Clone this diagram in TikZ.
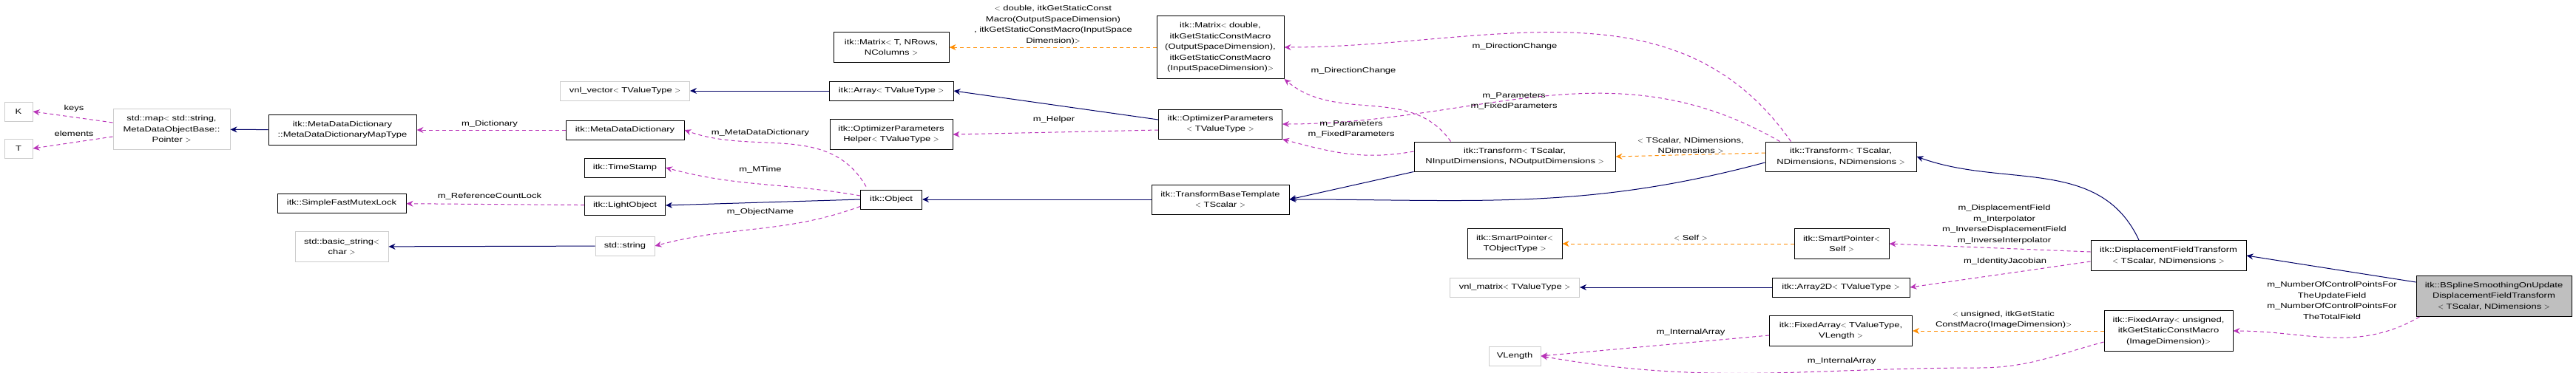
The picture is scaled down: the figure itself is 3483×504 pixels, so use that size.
\documentclass[tikz,border=0pt]{standalone}
\usepackage{fontspec}
\setmainfont{Liberation Sans}[FakeStretch=1.3]
\usetikzlibrary{arrows.meta,calc}
\begin{document}
\begin{tikzpicture}[x=1pt,y=-1pt,
  font=\fontsize{10}{14.5}\selectfont,
  box/.style={draw=black,line width=1pt,fill=white,align=center,inner sep=2pt},
  cls/.style={box},
  ext/.style={box,draw=black!20},
  cur/.style={box,fill=black!25},
  inh/.style={draw=blue!40!black,line width=1pt,-{Stealth[length=9pt,width=8pt]}},
  use/.style={draw=violet!70!magenta!80,line width=1pt,dash pattern=on 5pt off 4pt,-{Stealth[length=9pt,width=8pt]}},
  tpl/.style={draw=orange!90!yellow,line width=1pt,dash pattern=on 5pt off 4pt,-{Stealth[length=9pt,width=8pt]}},
  lbl/.style={align=center,inner sep=0pt}]
\useasboundingbox (0,0) rectangle (3483,504);
% nodes
\node[ext,minimum width=38,minimum height=26] (k) at (25,151) {K};
\node[ext,minimum width=38,minimum height=26] (t) at (25,201) {T};
\node[ext,minimum width=158,minimum height=55] (map) at (232,175) {std::map$<$ std::string,\\MetaDataObjectBase::\\Pointer $>$};
\node[cls,minimum width=200,minimum height=41] (maptype) at (463,176) {itk::MetaDataDictionary\\::MetaDataDictionaryMapType};
\node[ext,minimum width=175,minimum height=26] (vvec) at (845,123) {vnl\_vector$<$ TValueType $>$};
\node[cls,minimum width=160,minimum height=26] (mdd) at (845,176) {itk::MetaDataDictionary};
\node[cls,minimum width=109,minimum height=26] (stamp) at (845,227) {itk::TimeStamp};
\node[cls,minimum width=174,minimum height=26] (mutex) at (462,275) {itk::SimpleFastMutexLock};
\node[cls,minimum width=109,minimum height=26] (light) at (845,278) {itk::LightObject};
\node[ext,minimum width=126,minimum height=41] (bstr) at (462,334) {std::basic\_string$<$\\char $>$};
\node[ext,minimum width=80,minimum height=26] (str) at (845,333) {std::string};
\node[cls,minimum width=156,minimum height=41] (matT) at (1205,64) {itk::Matrix$<$ T, NRows,\\NColumns $>$};
\node[cls,minimum width=172,minimum height=85] (matD) at (1650,64) {itk::Matrix$<$ double,\\itkGetStaticConstMacro\\(OutputSpaceDimension),\\itkGetStaticConstMacro\\(InputSpaceDimension)$>$};
\node[cls,minimum width=168,minimum height=26] (arr) at (1205,123) {itk::Array$<$ TValueType $>$};
\node[cls,minimum width=166,minimum height=41] (helper) at (1205,182) {itk::OptimizerParameters\\Helper$<$ TValueType $>$};
\node[cls,minimum width=167,minimum height=40] (opt) at (1650,168) {itk::OptimizerParameters\\$<$ TValueType $>$};
\node[cls,minimum width=83,minimum height=26] (obj) at (1205,270) {itk::Object};
\node[cls,minimum width=186,minimum height=40] (tbt) at (1650,270) {itk::TransformBaseTemplate\\$<$ TScalar $>$};
\node[cls,minimum width=272,minimum height=40] (trIO) at (2048,212) {itk::Transform$<$ TScalar,\\NInputDimensions, NOutputDimensions $>$};
\node[cls,minimum width=204,minimum height=40] (trD) at (2489,212) {itk::Transform$<$ TScalar,\\NDimensions, NDimensions $>$};
\node[cls,minimum width=128,minimum height=41] (spT) at (2048,330) {itk::SmartPointer$<$\\TObjectType $>$};
\node[cls,minimum width=128,minimum height=41] (spS) at (2490,330) {itk::SmartPointer$<$\\Self $>$};
\node[ext,minimum width=175,minimum height=26] (vmat) at (2048,389) {vnl\_matrix$<$ TValueType $>$};
\node[cls,minimum width=186,minimum height=26] (arr2) at (2489,389) {itk::Array2D$<$ TValueType $>$};
\node[ext,minimum width=70,minimum height=26] (vlen) at (2048,482) {VLength};
\node[cls,minimum width=193,minimum height=41] (faT) at (2489,448) {itk::FixedArray$<$ TValueType,\\VLength $>$};
\node[cls,minimum width=210,minimum height=41] (dft) at (2932,346) {itk::DisplacementFieldTransform\\$<$ TScalar, NDimensions $>$};
\node[cls,minimum width=174,minimum height=55] (faU) at (2932,448) {itk::FixedArray$<$ unsigned,\\itkGetStaticConstMacro\\(ImageDimension)$>$};
\node[cur,minimum width=210,minimum height=55] (bsp) at (3372,401) {itk::BSplineSmoothingOnUpdate\\DisplacementFieldTransform\\$<$ TScalar, NDimensions $>$};
% connectors
\draw[use] (map.west|-k.east) ++(0,15) -- (k.east);
\draw[use] (map.west) ++(0,10) -- (t.east);
\draw[inh] (maptype) -- (map);
\draw[use] (mdd) -- (maptype);
\draw[use] (obj.north west) ++(8,-4) to[out=120,in=-20] (mdd.east);
\draw[use] (obj.west) ++(0,-5) to[out=170,in=-15] (stamp.east);
\draw[inh] (obj.west) -- (light.east);
\draw[use] (obj.south west) ++(0,-4) to[out=200,in=15] (str.east);
\draw[use] (light) -- (mutex);
\draw[inh] (str) -- (bstr);
\draw[inh] (arr) -- (vvec);
\draw[inh] (opt.west) ++(0,-6) -- (arr.east);
\draw[use] (opt.west) ++(0,8) -- (helper.east);
\draw[tpl] (matD) -- (matT);
\draw[inh] (tbt) -- (obj);
\draw[inh] (trIO.south west) -- (tbt.east);
\draw[use] (trIO.west) ++(0,-7) to[out=190,in=-15] (opt.south east);
\draw[use] (trIO.north west) ++(50,0) to[out=125,in=-40] (matD.south east);
\draw[tpl] (trD.west) ++(0,-5) -- (trIO.east);
\draw[inh] (trD.west) ++(0,8) to[out=195,in=0] (tbt.east);
\draw[use] (trD.north west) ++(20,0) to[out=150,in=0] (opt.east);
\draw[use] (trD.north west) ++(35,0) to[out=125,in=0] (matD.east);
\draw[inh] (dft.north) ++(-40,0) to[out=115,in=-20] (trD.east);
\draw[use] (dft.west) ++(0,-5) -- (spS.east);
\draw[use] (dft.west) ++(0,8) -- (arr2.east);
\draw[tpl] (spS) -- (spT);
\draw[inh] (arr2) -- (vmat);
\draw[use] (faT.west) ++(0,6) -- (vlen.east);
\draw[tpl] (faU) -- (faT);
\draw[use] (faU.west) ++(0,15) to[out=195,in=0] ++(-170,35) to[out=180,in=-10] (vlen.east);
\draw[inh] (bsp.north west) ++(0,9) -- (dft.east);
\draw[use] (bsp.south west) ++(5,0) to[out=210,in=0] (faU.east);
% labels
\node[lbl] at (100,147) {keys};
\node[lbl] at (100,181) {elements};
\node[lbl] at (662,168) {m\_Dictionary};
\node[lbl] at (662,266) {m\_ReferenceCountLock};
\node[lbl] at (1028,180) {m\_MetaDataDictionary};
\node[lbl] at (1028,230) {m\_MTime};
\node[lbl] at (1028,287) {m\_ObjectName};
\node[lbl] at (1424,34) {$<$ double, itkGetStaticConst\\Macro(OutputSpaceDimension)\\, itkGetStaticConstMacro(InputSpace\\Dimension)$>$};
\node[lbl] at (1425,162) {m\_Helper};
\node[lbl] at (2048,63) {m\_DirectionChange};
\node[lbl] at (1830,96) {m\_DirectionChange};
\node[lbl] at (2047,137) {m\_Parameters\\m\_FixedParameters};
\node[lbl] at (1827,175) {m\_Parameters\\m\_FixedParameters};
\node[lbl] at (2286,197) {$<$ TScalar, NDimensions,\\NDimensions $>$};
\node[lbl] at (2286,322) {$<$ Self $>$};
\node[lbl] at (2710,304) {m\_DisplacementField\\m\_Interpolator\\m\_InverseDisplacementField\\m\_InverseInterpolator};
\node[lbl] at (2711,354) {m\_IdentityJacobian};
\node[lbl] at (2709,433) {$<$ unsigned, itkGetStatic\\ConstMacro(ImageDimension)$>$};
\node[lbl] at (2286,450) {m\_InternalArray};
\node[lbl] at (2490,489) {m\_InternalArray};
\node[lbl] at (3153,407) {m\_NumberOfControlPointsFor\\TheUpdateField\\m\_NumberOfControlPointsFor\\TheTotalField};
\end{tikzpicture}
\end{document}
